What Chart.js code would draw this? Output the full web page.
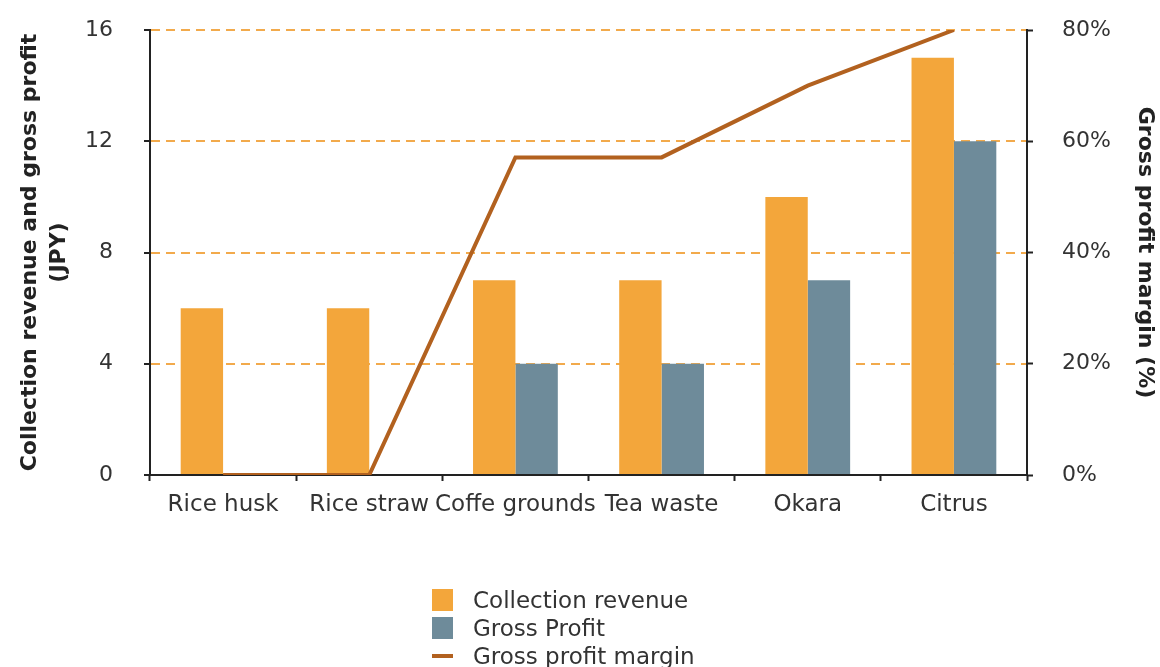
<!DOCTYPE html>
<html>
<head>
<meta charset="utf-8">
<script src="https://cdn.jsdelivr.net/npm/chart.js@4"></script>
<style>
  html, body { margin: 0; padding: 0; background: #fff; }
  #wrap { position: relative; width: 1160px; height: 667px; }
  #legend { position: absolute; left: 432px; top: 586px; font-family: "DejaVu Sans", sans-serif; font-size: 23px; color: #333; }
  .row { display: flex; align-items: center; height: 28px; }
  .mark { width: 21px; margin-right: 20px; }
</style>
</head>
<body>
<div id="wrap">
  <canvas id="chart" width="1160" height="667"></canvas>
  <div id="legend"></div>
</div>
<script>
'use strict';

const categories = ['Rice husk', 'Rice straw', 'Coffe grounds', 'Tea waste', 'Okara', 'Citrus'];
const collectionRevenue = [6, 6, 7, 7, 10, 15];
const grossProfit = [0, 0, 4, 4, 7, 12];
const grossMargin = [0, 0, 57.1, 57.1, 70, 80];

const orange = '#F3A63B';
const slate = '#6E8B9A';
const brown = '#B2611F';
const tickFont = { family: 'DejaVu Sans', size: 22 };
const titleFont = { family: 'DejaVu Sans', size: 22, weight: 'bold', lineHeight: 1.3 };

// keep the big tick padding from pushing the plot area down
function fixY(width) {
    return (s) => {
        s.width = width;
        s.paddingTop = 0;
        s.paddingBottom = 0;
    };
}

const ctx = document.getElementById('chart').getContext('2d');

const myChart = new Chart(ctx, {
    type: 'bar',
    data: {
        labels: categories,
        datasets: [{
            type: 'line',
            label: 'Gross profit margin',
            data: grossMargin,
            yAxisID: 'y1',
            borderColor: brown,
            backgroundColor: brown,
            borderWidth: 4,
            pointRadius: 0,
            order: 0
        }, {
            label: 'Collection revenue',
            data: collectionRevenue,
            backgroundColor: orange,
            order: 1
        }, {
            label: 'Gross Profit',
            data: grossProfit,
            backgroundColor: slate,
            order: 1
        }]
    },
    options: {
        responsive: false,
        animation: false,
        layout: { padding: { top: 30, bottom: 140 } },
        datasets: {
            bar: { categoryPercentage: 0.58, barPercentage: 1.0 }
        },
        plugins: {
            legend: { display: false },
            tooltip: { enabled: false }
        },
        scales: {
            x: {
                grid: { drawOnChartArea: false, tickLength: 6, tickColor: '#222', tickWidth: 2 },
                border: { color: '#222', width: 2 },
                ticks: { font: { family: 'DejaVu Sans', size: 23 }, color: '#333', padding: 10, maxRotation: 0, autoSkip: false },
                afterFit: (s) => { s.height = 52; }
            },
            y: {
                position: 'left',
                min: 0,
                max: 16,
                ticks: { stepSize: 4, font: tickFont, color: '#333', padding: 31 },
                grid: {
                    color: (c) => c.tick && c.tick.value === 0 ? 'rgba(0,0,0,0)' : '#F2AA4C',
                    lineWidth: 2,
                    tickColor: '#222',
                    tickWidth: 2,
                    tickLength: 6
                },
                border: { color: '#222', width: 2, dash: [9, 6] },
                title: {
                    display: true,
                    text: ['Collection revenue and gross profit', '(JPY)'],
                    font: titleFont,
                    color: '#222',
                    padding: { top: 16, bottom: 0 }
                },
                afterFit: fixY(150)
            },
            y1: {
                position: 'right',
                min: 0,
                max: 80,
                ticks: { stepSize: 20, font: tickFont, color: '#333', padding: 29, callback: (v) => v + '%' },
                grid: { drawOnChartArea: false, tickColor: '#222', tickWidth: 2, tickLength: 6 },
                border: { color: '#222', width: 2 },
                title: {
                    display: true,
                    text: 'Gross profit margin (%)',
                    font: titleFont,
                    color: '#222',
                    padding: { top: 1, bottom: 0 }
                },
                afterFit: fixY(133)
            }
        }
    }
});

// legend stacked vertically under the chart
const legendItems = [
    { text: 'Collection revenue', color: orange, h: 22 },
    { text: 'Gross Profit', color: slate, h: 22 },
    { text: 'Gross profit margin', color: brown, h: 4 }
];
const legendEl = document.getElementById('legend');
legendItems.forEach((it) => {
    const row = document.createElement('div');
    row.className = 'row';
    const m = document.createElement('span');
    m.className = 'mark';
    m.style.height = it.h + 'px';
    m.style.background = it.color;
    const t = document.createElement('span');
    t.textContent = it.text;
    row.appendChild(m);
    row.appendChild(t);
    legendEl.appendChild(row);
});
</script>
</body>
</html>
